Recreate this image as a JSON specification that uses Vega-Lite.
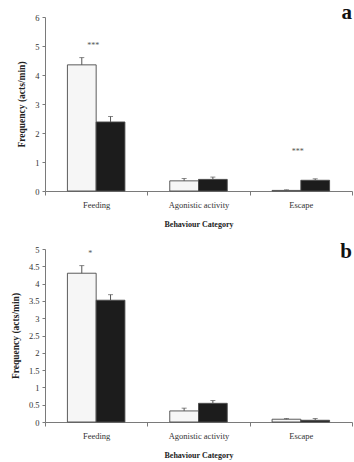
{
  "$schema": "https://vega.github.io/schema/vega-lite/v6.json",
  "background": "white",
  "padding": {"left": 10, "top": 2, "right": 0, "bottom": 0},
  "datasets": {
    "rates": [
      {"panel": "a", "category": "Feeding", "group": "g1", "mean": 4.35, "upper": 4.6},
      {"panel": "a", "category": "Feeding", "group": "g2", "mean": 2.38, "upper": 2.57},
      {"panel": "a", "category": "Agonistic activity", "group": "g1", "mean": 0.35, "upper": 0.43},
      {"panel": "a", "category": "Agonistic activity", "group": "g2", "mean": 0.4, "upper": 0.48},
      {"panel": "a", "category": "Escape", "group": "g1", "mean": 0.02, "upper": 0.04},
      {"panel": "a", "category": "Escape", "group": "g2", "mean": 0.37, "upper": 0.42},
      {"panel": "b", "category": "Feeding", "group": "g1", "mean": 4.3, "upper": 4.52},
      {"panel": "b", "category": "Feeding", "group": "g2", "mean": 3.52, "upper": 3.68},
      {"panel": "b", "category": "Agonistic activity", "group": "g1", "mean": 0.32, "upper": 0.4},
      {"panel": "b", "category": "Agonistic activity", "group": "g2", "mean": 0.54, "upper": 0.62},
      {"panel": "b", "category": "Escape", "group": "g1", "mean": 0.08, "upper": 0.1},
      {"panel": "b", "category": "Escape", "group": "g2", "mean": 0.05, "upper": 0.1}
    ],
    "sig": [
      {"panel": "a", "category": "Feeding", "label": "***", "level": 5.0},
      {"panel": "a", "category": "Escape", "label": "***", "level": 1.35},
      {"panel": "b", "category": "Feeding", "label": "*", "level": 4.85}
    ]
  },
  "config": {
    "view": {"stroke": null},
    "font": "Liberation Serif",
    "axis": {
      "grid": false,
      "domainColor": "#7a7a7a",
      "tickColor": "#7a7a7a",
      "labelColor": "#333333",
      "titleColor": "#222222",
      "labelFont": "Liberation Serif",
      "titleFont": "Liberation Serif",
      "labelFontSize": 8.5,
      "titleFontSize": 8,
      "titleFontWeight": "bold"
    },
    "axisY": {"tickSize": 3, "labelPadding": 3, "titlePadding": 8, "titleFontSize": 9.5},
    "axisX": {"labelAngle": 0, "tickBand": "extent", "tickSize": 4, "labelPadding": 5, "titlePadding": 12},
    "title": {"font": "Liberation Serif", "fontSize": 21, "fontWeight": "bold", "color": "#111111", "anchor": "end", "frame": "group", "baseline": "alphabetic", "offset": 0}
  },
  "spacing": 12,
  "vconcat": [
    {
      "width": 307,
      "height": 174,
      "title": {"text": "a", "dy": 14},
      "data": {"name": "rates"},
      "transform": [{"filter": "datum.panel === 'a'"}],
      "encoding": {
        "x": {
          "field": "category", "type": "nominal",
          "sort": ["Feeding", "Agonistic activity", "Escape"],
          "scale": {"paddingInner": 0, "paddingOuter": 0},
          "axis": {"title": "Behaviour Category"}
        }
      },
      "layer": [
        {
          "mark": {"type": "bar", "stroke": "#4a4a4a", "strokeWidth": 0.9},
          "encoding": {
            "xOffset": {"field": "group", "scale": {"paddingInner": 0, "paddingOuter": 0.78}},
            "y": {
              "field": "mean", "type": "quantitative",
              "scale": {"domain": [0, 6]},
              "axis": {"title": "Frequency (acts/min)", "values": [0, 1, 2, 3, 4, 5, 6]}
            },
            "fill": {"field": "group", "type": "nominal", "scale": {"range": ["#f6f6f6", "#1c1c1c"]}, "legend": null}
          }
        },
        {
          "mark": {"type": "rule", "color": "#555555", "strokeWidth": 1},
          "encoding": {
            "xOffset": {"field": "group"},
            "y": {"field": "mean", "type": "quantitative", "axis": {"title": "Frequency (acts/min)", "values": [0, 1, 2, 3, 4, 5, 6]}},
            "y2": {"field": "upper"}
          }
        },
        {
          "mark": {"type": "tick", "color": "#555555", "size": 5, "thickness": 1},
          "encoding": {
            "xOffset": {"field": "group"},
            "y": {"field": "upper", "type": "quantitative", "axis": {"title": "Frequency (acts/min)", "values": [0, 1, 2, 3, 4, 5, 6]}}
          }
        },
        {
          "data": {"name": "sig"},
          "transform": [{"filter": "datum.panel === 'a'"}],
          "mark": {"type": "text", "fontSize": 8, "color": "#555555", "baseline": "middle", "dx": -3},
          "encoding": {
            "y": {"field": "level", "type": "quantitative", "axis": {"title": "Frequency (acts/min)", "values": [0, 1, 2, 3, 4, 5, 6]}},
            "text": {"field": "label"}
          }
        }
      ]
    },
    {
      "width": 307,
      "height": 173,
      "title": {"text": "b", "dy": 21},
      "data": {"name": "rates"},
      "transform": [{"filter": "datum.panel === 'b'"}],
      "encoding": {
        "x": {
          "field": "category", "type": "nominal",
          "sort": ["Feeding", "Agonistic activity", "Escape"],
          "scale": {"paddingInner": 0, "paddingOuter": 0},
          "axis": {"title": "Behaviour Category"}
        }
      },
      "layer": [
        {
          "mark": {"type": "bar", "stroke": "#4a4a4a", "strokeWidth": 0.9},
          "encoding": {
            "xOffset": {"field": "group", "scale": {"paddingInner": 0, "paddingOuter": 0.78}},
            "y": {
              "field": "mean", "type": "quantitative",
              "scale": {"domain": [0, 5]},
              "axis": {"title": "Frequency (acts/min)", "values": [0, 0.5, 1, 1.5, 2, 2.5, 3, 3.5, 4, 4.5, 5], "format": "~g"}
            },
            "fill": {"field": "group", "type": "nominal", "scale": {"range": ["#f6f6f6", "#1c1c1c"]}, "legend": null}
          }
        },
        {
          "mark": {"type": "rule", "color": "#555555", "strokeWidth": 1},
          "encoding": {
            "xOffset": {"field": "group"},
            "y": {"field": "mean", "type": "quantitative", "axis": {"title": "Frequency (acts/min)", "values": [0, 0.5, 1, 1.5, 2, 2.5, 3, 3.5, 4, 4.5, 5], "format": "~g"}},
            "y2": {"field": "upper"}
          }
        },
        {
          "mark": {"type": "tick", "color": "#555555", "size": 5, "thickness": 1},
          "encoding": {
            "xOffset": {"field": "group"},
            "y": {"field": "upper", "type": "quantitative", "axis": {"title": "Frequency (acts/min)", "values": [0, 0.5, 1, 1.5, 2, 2.5, 3, 3.5, 4, 4.5, 5], "format": "~g"}}
          }
        },
        {
          "data": {"name": "sig"},
          "transform": [{"filter": "datum.panel === 'b'"}],
          "mark": {"type": "text", "fontSize": 8, "color": "#555555", "baseline": "middle", "dx": -6},
          "encoding": {
            "y": {"field": "level", "type": "quantitative", "axis": {"title": "Frequency (acts/min)", "values": [0, 0.5, 1, 1.5, 2, 2.5, 3, 3.5, 4, 4.5, 5], "format": "~g"}},
            "text": {"field": "label"}
          }
        }
      ]
    }
  ]
}
